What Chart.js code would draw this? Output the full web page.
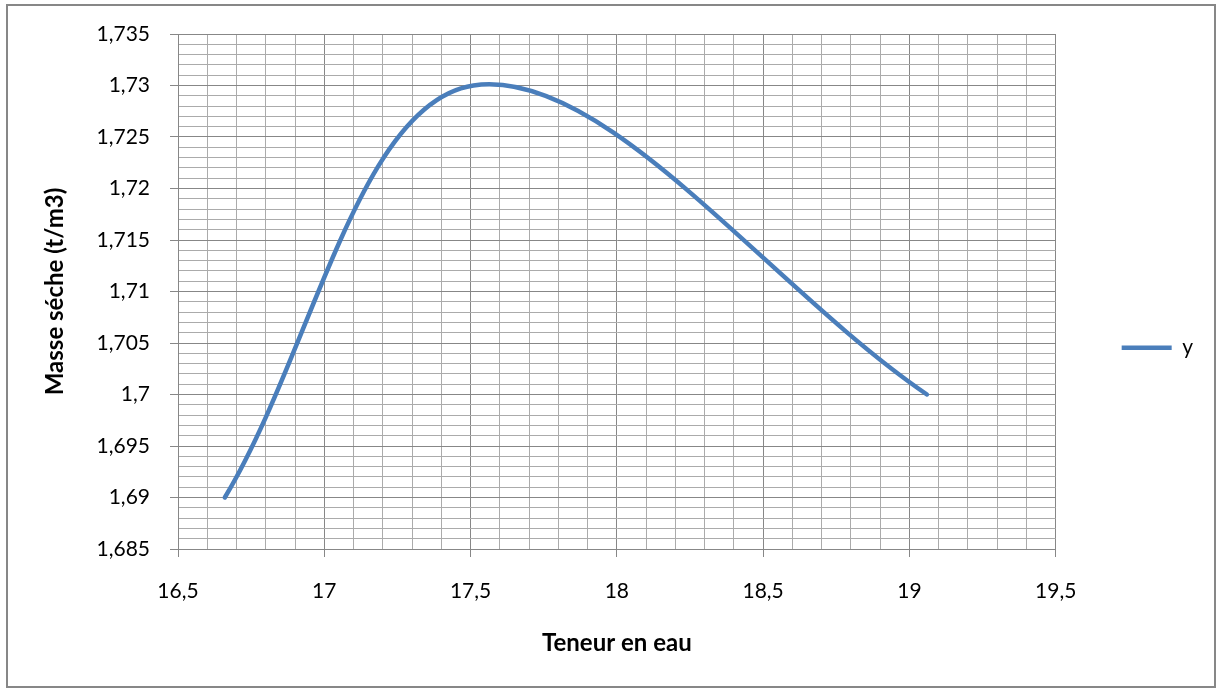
<!DOCTYPE html>
<html>
<head>
<meta charset="utf-8">
<script src="https://cdn.jsdelivr.net/npm/chart.js@4.4.0/dist/chart.umd.min.js"></script>
<style>
  html, body { margin: 0; padding: 0; background: #fff; }
  #wrap { width: 1219px; height: 691px; }
</style>
</head>
<body>
<div id="wrap"><canvas id="chart" width="1219" height="691"></canvas></div>
<script>
// data
const teneur = [16.66, 17.51, 19.06];
const masse = [1.69, 1.73, 1.70];
const seriesName = 'y';
const xTitle = 'Teneur en eau';
const yTitle = 'Masse séche (t/m3)';
const xMin = 16.5, xMax = 19.5, xMajor = 0.5, xMinor = 0.1;
const yMin = 1.685, yMax = 1.735, yMajor = 0.005, yMinor = 0.001;

const MAJOR = '#878787';
const MINOR = '#ababab';

function isMajor(v, step) {
  const r = v / step;
  return Math.abs(r - Math.round(r)) < 1e-6;
}
function fmt(v) {
  return String(Number(v.toFixed(4))).replace('.', ',');
}

// outer frame like the excel chart border
const framePlugin = {
  id: 'frame',
  beforeDraw(chart) {
    const ctx = chart.ctx;
    ctx.save();
    ctx.fillStyle = '#fff';
    ctx.fillRect(0, 0, chart.width, chart.height);
    ctx.strokeStyle = '#878787';
    ctx.lineWidth = 2;
    ctx.strokeRect(7, 5, 1208, 682);
    ctx.restore();
  }
};

Chart.defaults.font.family = 'Lato, "Open Sans", sans-serif';
Chart.defaults.font.size = 21;
Chart.defaults.color = '#000';

new Chart(document.getElementById('chart').getContext('2d'), {
  type: 'scatter',
  data: {
    datasets: [{
      label: seriesName,
      data: teneur.map((x, i) => ({ x, y: masse[i] })),
      showLine: true,
      tension: 0.35,
      borderColor: '#4a7ebb',
      backgroundColor: '#4a7ebb',
      borderWidth: 4.5,
      borderCapStyle: 'round',
      pointRadius: 0,
      pointHoverRadius: 0
    }]
  },
  options: {
    responsive: false,
    animation: false,
    devicePixelRatio: 1,
    layout: { padding: { left: 10, top: 34, right: 16, bottom: 10 } },
    plugins: {
      tooltip: { enabled: false },
      legend: {
        position: 'right',
        align: 'start',
        title: { display: true, text: '', padding: { top: 0, bottom: 212 } },
        labels: {
          usePointStyle: true,
          pointStyle: 'line',
          pointStyleWidth: 50,
          padding: 66,
          font: { size: 21 },
          color: '#000'
        }
      }
    },
    scales: {
      x: {
        type: 'linear',
        min: xMin, max: xMax,
        afterFit(s) { s.height = 132; },
        ticks: {
          stepSize: xMinor,
          autoSkip: false,
          maxRotation: 0,
          padding: 22,
          callback: v => isMajor(v, xMajor) ? fmt(v) : ''
        },
        grid: {
          color: c => isMajor(c.tick.value, xMajor) ? MAJOR : MINOR,
          tickColor: c => isMajor(c.tick.value, xMajor) ? MAJOR : 'rgba(0,0,0,0)',
          tickLength: 8,
          lineWidth: 1
        },
        border: { color: MAJOR, width: 1 },
        title: {
          display: true, text: xTitle,
          font: { size: 24, weight: 'bold' },
          padding: { top: 0, bottom: 23 }
        }
      },
      y: {
        type: 'linear',
        min: yMin, max: yMax,
        afterFit(s) { s.width = 168; },
        ticks: {
          stepSize: yMinor,
          autoSkip: false,
          padding: 20,
          callback: v => isMajor(v, yMajor) ? fmt(v) : ''
        },
        grid: {
          color: c => isMajor(c.tick.value, yMajor) ? MAJOR : MINOR,
          tickColor: c => isMajor(c.tick.value, yMajor) ? MAJOR : 'rgba(0,0,0,0)',
          tickLength: 8,
          lineWidth: 1
        },
        border: { color: MAJOR, width: 1 },
        title: {
          display: true, text: yTitle,
          font: { size: 24, weight: 'bold' },
          padding: { top: 31, bottom: 0 }
        }
      }
    }
  },
  plugins: [framePlugin]
});
</script>
</body>
</html>
